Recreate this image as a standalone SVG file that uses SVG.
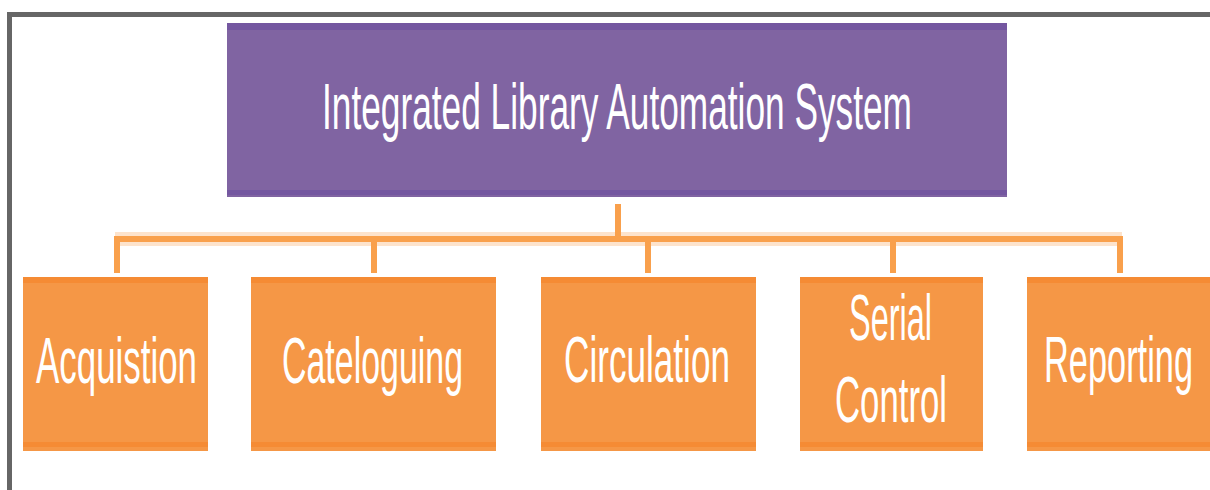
<svg xmlns="http://www.w3.org/2000/svg" width="1210" height="490" viewBox="0 0 1210 490">
  <style>
    .frame { stroke: #666666; stroke-width: 5; fill: none; }
    .root { fill: #8064A2; }
    .root-edge { fill: #7457A0; }
    .leaf { fill: #F59746; }
    .leaf-edge { fill: #F58B34; }
    .label { font-family: "Liberation Sans", Arial, sans-serif; font-size: 36px; fill: #FFFFFF; text-anchor: middle; }
    .halo { stroke: #FDE3CC; stroke-width: 14; fill: none; }
    .link { stroke: #F9A04C; stroke-width: 6; fill: none; }
  </style>

  <!-- page frame -->
  <path class="frame" d="M9.5,490 V14.5 H1210"/>

  <!-- connectors -->
  <g id="connectors">
    <path class="halo" d="M115,239 H1122"/>
    <path class="link" d="M618,204 V239"/>
    <path class="link" d="M117,273 V239 H1120 V273"/>
    <path class="link" d="M374,239 V273"/>
    <path class="link" d="M648,239 V273"/>
    <path class="link" d="M893,239 V273"/>
  </g>

  <!-- root node -->
  <g id="node-ilas">
    <rect class="root" x="227" y="23" width="780" height="174"/>
    <rect class="root-edge" x="227" y="23" width="780" height="7"/>
    <rect class="root-edge" x="227" y="190" width="780" height="5"/>
    <text class="label" transform="translate(617,129) scale(1,1.78)" textLength="590" lengthAdjust="spacingAndGlyphs">Integrated Library Automation System</text>
  </g>

  <!-- module nodes -->
  <g id="node-acquistion">
    <rect class="leaf" x="23" y="277" width="185" height="174"/>
    <rect class="leaf-edge" x="23" y="277" width="185" height="6"/>
    <rect class="leaf-edge" x="23" y="442" width="185" height="5"/>
    <text class="label" transform="translate(116.5,383) scale(1,1.78)" textLength="161" lengthAdjust="spacingAndGlyphs">Acquistion</text>
  </g>

  <g id="node-cateloguing">
    <rect class="leaf" x="251" y="277" width="245" height="174"/>
    <rect class="leaf-edge" x="251" y="277" width="245" height="6"/>
    <rect class="leaf-edge" x="251" y="442" width="245" height="5"/>
    <text class="label" transform="translate(372.5,383) scale(1,1.78)" textLength="181" lengthAdjust="spacingAndGlyphs">Cateloguing</text>
  </g>

  <g id="node-circulation">
    <rect class="leaf" x="541" y="277" width="215" height="174"/>
    <rect class="leaf-edge" x="541" y="277" width="215" height="6"/>
    <rect class="leaf-edge" x="541" y="442" width="215" height="5"/>
    <text class="label" transform="translate(647,382) scale(1,1.78)" textLength="166" lengthAdjust="spacingAndGlyphs">Circulation</text>
  </g>

  <g id="node-serial-control">
    <rect class="leaf" x="800" y="277" width="183" height="174"/>
    <rect class="leaf-edge" x="800" y="277" width="183" height="6"/>
    <rect class="leaf-edge" x="800" y="442" width="183" height="5"/>
    <text class="label" transform="translate(890.5,340) scale(1,1.78)" textLength="83" lengthAdjust="spacingAndGlyphs">Serial</text>
    <text class="label" transform="translate(891,422) scale(1,1.78)" textLength="112" lengthAdjust="spacingAndGlyphs">Control</text>
  </g>

  <g id="node-reporting">
    <rect class="leaf" x="1027" y="277" width="183" height="174"/>
    <rect class="leaf-edge" x="1027" y="277" width="183" height="6"/>
    <rect class="leaf-edge" x="1027" y="442" width="183" height="5"/>
    <text class="label" transform="translate(1118.5,382) scale(1,1.78)" textLength="149" lengthAdjust="spacingAndGlyphs">Reporting</text>
  </g>
</svg>
